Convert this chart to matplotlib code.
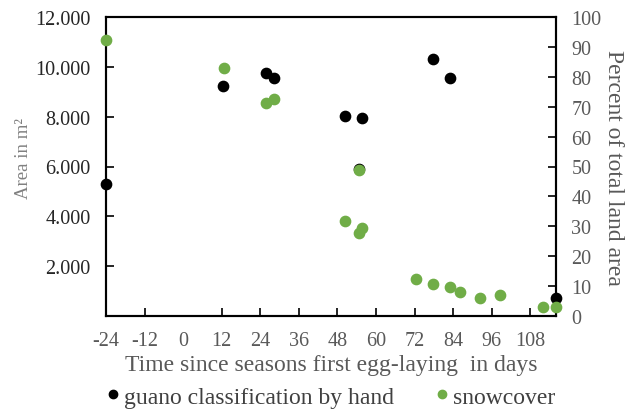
import matplotlib
matplotlib.use("Agg")
import matplotlib.pyplot as plt
from matplotlib.lines import Line2D

plt.rcParams['font.family'] = ['Liberation Serif', 'DejaVu Serif']

# guano classification by hand (area in m², left axis)
guano_days = [-24, 12.5, 25.8, 28.3, 50.5, 55.6, 54.7, 77.8, 83, 116]
guano_area = [5300, 9240, 9770, 9560, 8020, 7960, 5900, 10330, 9560, 720]

# snowcover (percent of total land area, right axis)
snow_days = [-24, 12.8, 25.8, 28.3, 54.7, 50.5, 54.7, 55.6, 72.6, 77.8, 83, 86.2, 92.2, 98.6, 112, 116]
snow_pct = [92.3, 82.9, 71.3, 72.6, 48.9, 31.7, 27.7, 29.3, 12.4, 10.7, 9.6, 7.9, 5.9, 6.9, 3.0, 3.0]

x_ticks = [-24, -12, 0, 12, 24, 36, 48, 60, 72, 84, 96, 108]
left_ticks = [2000, 4000, 6000, 8000, 10000, 12000]
left_labels = ['2.000', '4.000', '6.000', '8.000', '10.000', '12.000']
right_ticks = list(range(0, 101, 10))

GREEN = '#70AD47'
GRAY = '#595959'

fig = plt.figure(figsize=(6.33, 4.10), dpi=100)
ax = fig.add_axes([106/633, 1 - 317/410, (556-106)/633, (317-18)/410])
ax2 = ax.twinx()

ax.scatter(guano_days, guano_area, s=55, color='black', zorder=3, clip_on=False)
ax2.scatter(snow_days, snow_pct, s=55, color=GREEN, zorder=4, clip_on=False)

ax.set_xlim(-24, 116)
ax.set_ylim(0, 12000)
ax2.set_ylim(0, 100)

ax.set_xticks(x_ticks)
ax.set_xticklabels([str(t) for t in x_ticks], color=GRAY, fontsize=14.5)
ax.set_yticks(left_ticks)
ax.set_yticklabels(left_labels, color='#262626', fontsize=14.5)
ax2.set_yticks(right_ticks)
ax2.set_yticklabels([str(t) for t in right_ticks], color=GRAY, fontsize=14.5)

ax.tick_params(axis='both', direction='in', length=6, width=1.2)
ax2.tick_params(axis='y', direction='in', length=6, width=1.2, pad=11)
ax.tick_params(axis='y', pad=11)
ax.tick_params(axis='x', pad=11)
for t in ax.xaxis.get_major_ticks():
    if t.get_loc() == 0:
        t.tick1line.set_visible(False)

for a in (ax, ax2):
    for s in a.spines.values():
        s.set_linewidth(1.5)
        s.set_color('black')

ax.set_ylabel('Area in m²', color='#808080', fontsize=13.5)
ax.yaxis.set_label_coords(-0.165, 0.53)
ax2.set_ylabel('Percent of total land area', color=GRAY, fontsize=17,
               rotation=270, labelpad=16)
ax.set_xlabel('Time since seasons first egg-laying  in days', color=GRAY,
              fontsize=17, labelpad=3)

handles = [Line2D([], [], marker='o', ls='none', color='black', markersize=6),
           Line2D([], [], marker='o', ls='none', color=GREEN, markersize=6)]
fig.legend(handles, ['guano classification by hand', 'snowcover'],
           loc='center', bbox_to_anchor=(325/633, 1 - 398/410), ncol=2,
           frameon=False, fontsize=17, handletextpad=-0.3, columnspacing=1.3,
           handlelength=1.5, labelcolor='#404040')

fig.savefig('out.png', dpi=100)
